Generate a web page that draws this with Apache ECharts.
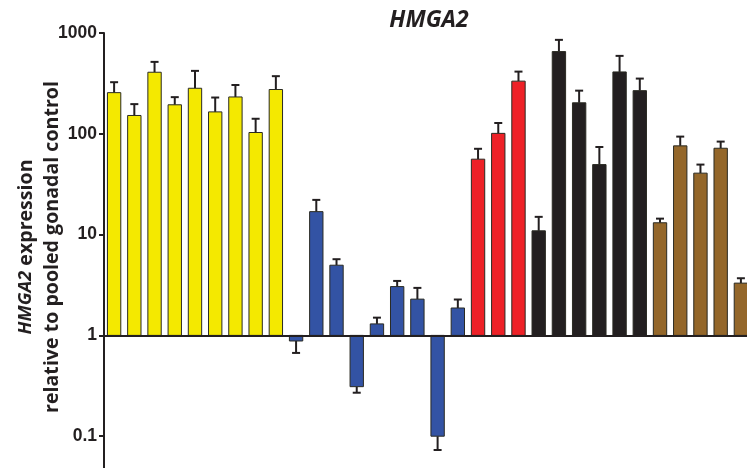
<!DOCTYPE html>
<html>
<head>
<meta charset="utf-8">
<script src="https://cdn.jsdelivr.net/npm/echarts@6/dist/echarts.min.js"></script>
<style>
html,body{margin:0;padding:0;background:#fff;}
#chart{width:747px;height:468px;}
</style>
</head>
<body>
<div id="chart"></div>
<script>
// ---- data ----
const titleText = 'HMGA2';
const yTicks = [0.1, 1, 10, 100, 1000];

const yellowMean = [256, 152, 408, 194, 283, 165, 232, 103, 275];
const yellowErrEnd = [325, 197, 517, 231, 421, 229, 305, 141, 373];

const blueMean = [0.88, 16.9, 4.97, 0.31, 1.30, 3.05, 2.29, 0.10, 1.87];
const blueErrEnd = [0.67, 22.1, 5.70, 0.27, 1.50, 3.47, 2.96, 0.073, 2.27];

const redMean = [56, 101, 333];
const redErrEnd = [71, 128, 414];

const blackMean = [10.9, 654, 203, 49.5, 411, 268];
const blackErrEnd = [15.0, 855, 268, 74, 593, 353];

const brownMean = [13.1, 75.9, 40.7, 71.9, 3.30];
const brownErrEnd = [14.4, 93.8, 49.5, 83.7, 3.69];

const groups = [
  {name: 'yellow', color: '#f4e900', mean: yellowMean, err: yellowErrEnd},
  {name: 'blue', color: '#3353a4', mean: blueMean, err: blueErrEnd},
  {name: 'red', color: '#ee2127', mean: redMean, err: redErrEnd},
  {name: 'black', color: '#231f20', mean: blackMean, err: blackErrEnd},
  {name: 'brown', color: '#94672a', mean: brownMean, err: brownErrEnd}
];

// categories: one slot per sample
const categories = [];
let idx = 0;
const seriesData = groups.map(g => {
  return g.mean.map((m, i) => {
    categories.push(g.name + (i + 1));
    return [idx++, m, g.err[i]];
  });
});

const INK = '#231f20';

function barRender(color) {
  return function (params, api) {
    const x = api.value(0), v = api.value(1);
    const top = api.coord([x, v]);
    const base = api.coord([x, 1]);
    const w = api.size([1, 0])[0] * 0.66;
    return {
      type: 'rect',
      shape: {x: top[0] - w / 2, y: Math.min(top[1], base[1]), width: w, height: Math.abs(base[1] - top[1])},
      style: {fill: color, stroke: '#2a2a22', lineWidth: 1}
    };
  };
}

function errRender(params, api) {
  const x = api.value(0), v = api.value(1), e = api.value(2);
  const p0 = api.coord([x, v]);
  const p1 = api.coord([x, e]);
  const cw = 4;
  return {
    type: 'group',
    children: [
      {type: 'line', shape: {x1: p0[0], y1: p0[1], x2: p1[0], y2: p1[1]}, style: {stroke: INK, lineWidth: 2}},
      {type: 'line', shape: {x1: p1[0] - cw, y1: p1[1], x2: p1[0] + cw, y2: p1[1]}, style: {stroke: INK, lineWidth: 2}}
    ]
  };
}

const series = [];
groups.forEach((g, gi) => {
  series.push({
    type: 'custom', name: g.name + '-err', renderItem: errRender,
    data: seriesData[gi], encode: {x: 0, y: 1}, z: 1, silent: true, clip: false
  });
});
groups.forEach((g, gi) => {
  series.push({
    type: 'custom', name: g.name, renderItem: barRender(g.color),
    data: seriesData[gi], encode: {x: 0, y: 1}, z: 2, silent: true, clip: false
  });
});
series[series.length - 1].markLine = {
  silent: true, symbol: 'none', animation: false,
  label: {show: false},
  lineStyle: {color: INK, width: 2, type: 'solid'},
  data: [{yAxis: 1}]
};
series[series.length - 1].z = 3;

const chart = echarts.init(document.getElementById('chart'), null, {renderer: 'canvas'});
chart.setOption({
  animation: false,
  backgroundColor: '#ffffff',
  grid: {left: 104, top: 33, width: 647, height: 504, containLabel: false, outerBoundsMode: 'none'},
  xAxis: {
    type: 'category', data: categories,
    axisLine: {show: false}, axisTick: {show: false}, axisLabel: {show: false}, splitLine: {show: false}
  },
  yAxis: {
    type: 'log', logBase: 10, min: 0.01, max: 1000,
    axisLine: {show: true, lineStyle: {color: INK, width: 2}},
    axisTick: {show: true, length: 5, lineStyle: {color: INK, width: 2}},
    axisLabel: {
      color: INK, fontFamily: 'Liberation Sans', fontWeight: 'bold', fontSize: 17.5, margin: 7,
      formatter: v => {
        const hit = yTicks.find(t => Math.abs(t - v) / t < 1e-6);
        return hit !== undefined ? String(hit) : '';
      }
    },
    splitLine: {show: false}
  },
  graphic: [
    {
      type: 'text', x: 429, y: 20,
      style: {
        text: titleText, fill: INK, font: 'italic bold 23px "Open Sans"',
        textAlign: 'center', textVerticalAlign: 'middle'
      }
    },
    {
      type: 'text', x: 39, y: 247, rotation: Math.PI / 2,
      style: {
        text: '{i|HMGA2} expression\nrelative to pooled gonadal control',
        fill: INK, fontFamily: 'Open Sans', fontWeight: 'bold', fontSize: 19.6,
        lineHeight: 26, textAlign: 'center', textVerticalAlign: 'middle',
        rich: {i: {fontStyle: 'italic', fontFamily: 'Open Sans', fontWeight: 'bold', fontSize: 18.5, fill: INK}}
      }
    }
  ],
  series: series
});
</script>
</body>
</html>
